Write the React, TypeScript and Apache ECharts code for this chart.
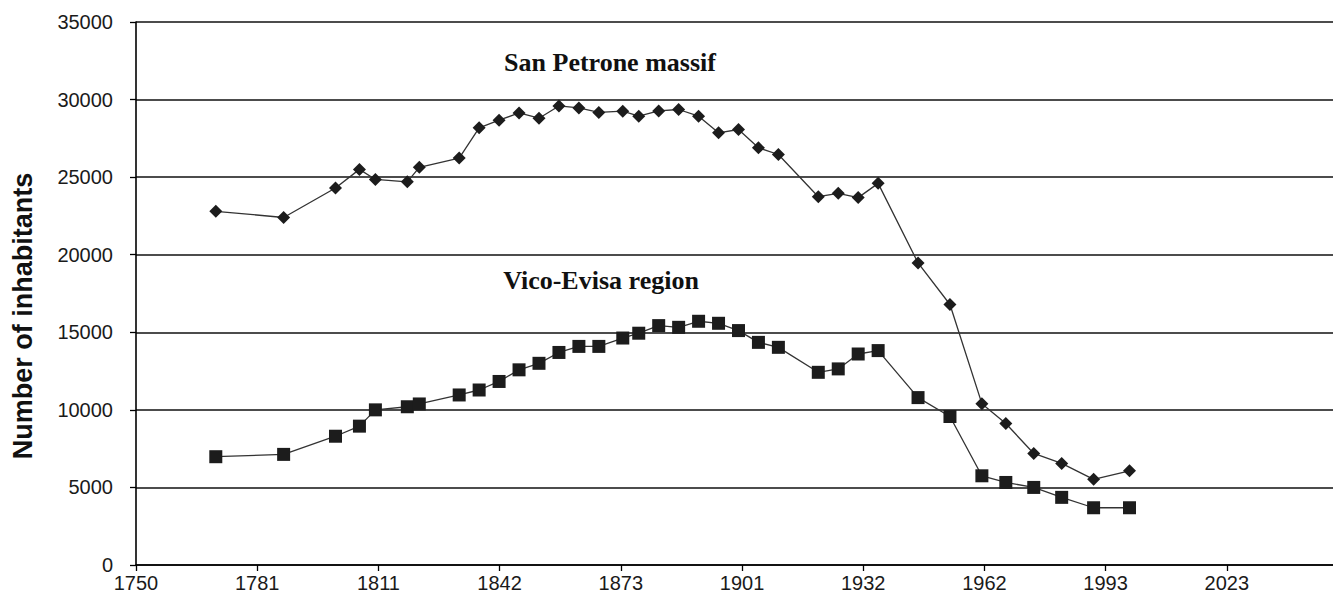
import React, { useEffect, useRef } from "react";
import * as echarts from "echarts";

const years = [1770, 1787, 1800, 1806, 1810, 1818, 1821, 1831, 1836, 1841, 1846, 1851, 1856, 1861, 1866, 1872, 1876, 1881, 1886, 1891, 1896, 1901, 1906, 1911, 1921, 1926, 1931, 1936, 1946, 1954, 1962, 1968, 1975, 1982, 1990, 1999];
const sanPetrone = [22800, 22400, 24300, 25500, 24850, 24700, 25630, 26230, 28180, 28670, 29140, 28800, 29590, 29460, 29170, 29250, 28930, 29270, 29360, 28930, 27860, 28070, 26890, 26460, 23740, 23960, 23680, 24600, 19470, 16790, 10400, 9120, 7190, 6550, 5520, 6070];
const vicoEvisa = [6980, 7130, 8300, 8950, 10000, 10200, 10380, 10960, 11280, 11830, 12580, 13000, 13700, 14090, 14090, 14630, 14940, 15430, 15320, 15710, 15580, 15110, 14350, 14030, 12420, 12640, 13600, 13820, 10790, 9570, 5750, 5320, 5000, 4360, 3690, 3690];
const xTickLabels = ["1750", "1781", "1811", "1842", "1873", "1901", "1932", "1962", "1993", "2023"];
const yearMin = 1750;
const yearMax = 2050;
const tickSlots = 9.876;

export default function App() {
  const ref = useRef<HTMLDivElement>(null);
  useEffect(() => {
    if (!ref.current) return;
    const chart = echarts.init(ref.current, null, { renderer: "svg" });
    const font = "'Liberation Sans', Arial, sans-serif";
    const serif = "'Liberation Serif', 'Times New Roman', serif";
    chart.setOption({
      animation: false,
      backgroundColor: "#ffffff",
      grid: { left: 136, right: 0, top: 22, bottom: 37, containLabel: false },
      xAxis: [
        {
          type: "value",
          position: "bottom",
          min: 0,
          max: tickSlots,
          interval: 1,
          axisLine: { show: true, onZero: false, lineStyle: { color: "#000", width: 1.6 } },
          axisTick: { show: true, length: 6, inside: false, lineStyle: { color: "#000", width: 1.3 } },
          splitLine: { show: false },
          axisLabel: {
            show: true,
            margin: 8,
            color: "#1a1a1a",
            fontFamily: font,
            fontSize: 20,
            showMaxLabel: false,
            formatter: (v: number) => {
              const i = Math.round(v);
              return Math.abs(v - i) < 1e-6 && i < xTickLabels.length ? xTickLabels[i] : "";
            },
          },
        },
        {
          type: "value",
          position: "bottom",
          min: yearMin,
          max: yearMax,
          show: false,
          splitLine: { show: false },
        },
      ],
      yAxis: {
        type: "value",
        min: 0,
        max: 35000,
        interval: 5000,
        axisLine: { show: true, lineStyle: { color: "#000", width: 1.6 } },
        axisTick: { show: true, length: 6, inside: false, lineStyle: { color: "#000", width: 1.3 } },
        splitLine: { show: true, lineStyle: { color: "#111", width: 1.6 } },
        axisLabel: {
          margin: 23,
          color: "#1a1a1a",
          fontFamily: font,
          fontSize: 20,
          formatter: (v: number) => String(v),
        },
      },
      graphic: [
        {
          type: "text",
          x: 23,
          y: 316,
          rotation: Math.PI / 2,
          style: {
            text: "Number of inhabitants",
            fontFamily: font,
            fontWeight: "bold",
            fontSize: 27,
            fill: "#111",
            align: "center",
            verticalAlign: "middle",
          },
        },
        {
          type: "text",
          x: 610,
          y: 62,
          style: {
            text: "San Petrone massif",
            fontFamily: serif,
            fontWeight: "bold",
            fontSize: 26,
            fill: "#111",
            align: "center",
            verticalAlign: "middle",
          },
        },
        {
          type: "text",
          x: 601,
          y: 280,
          style: {
            text: "Vico-Evisa region",
            fontFamily: serif,
            fontWeight: "bold",
            fontSize: 26,
            fill: "#111",
            align: "center",
            verticalAlign: "middle",
          },
        },
      ],
      series: [
        {
          name: "San Petrone massif",
          type: "line",
          xAxisIndex: 1,
          data: years.map((y, i) => [y, sanPetrone[i]]),
          symbol: "diamond",
          symbolSize: 13,
          itemStyle: { color: "#1c1c1c" },
          lineStyle: { color: "#333", width: 1.3 },
        },
        {
          name: "Vico-Evisa region",
          type: "line",
          xAxisIndex: 1,
          data: years.map((y, i) => [y, vicoEvisa[i]]),
          symbol: "rect",
          symbolSize: 13,
          itemStyle: { color: "#1c1c1c" },
          lineStyle: { color: "#333", width: 1.3 },
        },
      ],
    });
    return () => chart.dispose();
  }, []);
  return <div ref={ref} style={{ position: "absolute", left: 0, top: 0, width: 1333, height: 602 }} />;
}
